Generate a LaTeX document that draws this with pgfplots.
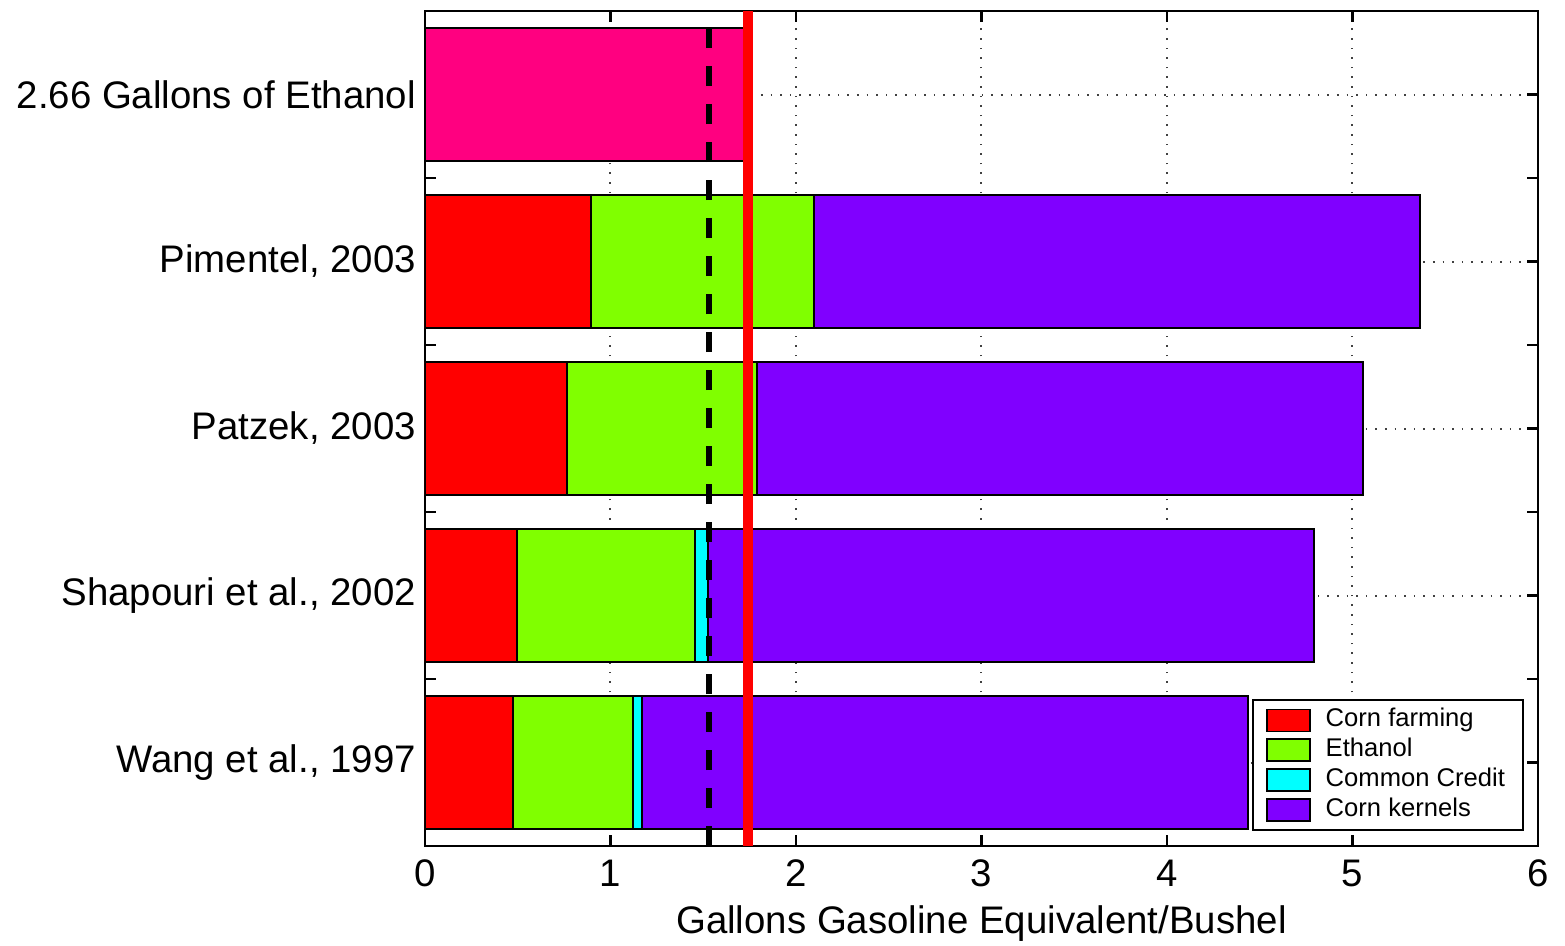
\documentclass[border=0pt]{standalone}
\usepackage{pgfplots}
\pgfplotsset{compat=1.18}
\usepackage{fontspec}
\setmainfont{Liberation Sans}

\definecolor{cfarm}{RGB}{255,0,0}
\definecolor{ceth}{RGB}{128,255,0}
\definecolor{ccred}{RGB}{0,255,255}
\definecolor{ckern}{RGB}{128,0,255}
\definecolor{cpink}{RGB}{255,0,128}

\pgfplotsset{
  base/.style={
    scale only axis,
    width=278.25pt, height=208.75pt,
    xmin=0, xmax=6, ymin=0.5, ymax=5.5,
  },
}

\begin{document}
\begin{tikzpicture}
\begin{axis}[
    base,
    name=ax,
    xbar stacked,
    bar width=0.8,
    axis line style={line width=0.6pt},
    tick align=inside,
    tick pos=both,
    tick style={black, line width=0.6pt},
    major tick length=2.75pt,
    minor tick length=2.75pt,
    xtick={0,1,...,6},
    ytick={1,2,3,4,5},
    minor ytick={1.5,2.5,3.5,4.5},
    yticklabels={{Wang et al., 1997},{Shapouri et al., 2002},{Patzek, 2003},{Pimentel, 2003},{2.66 Gallons of Ethanol}},
    grid=major,
    grid style={dotted, black!75, line width=0.5pt},
    ticklabel style={font=\fontsize{9.6}{11}\selectfont},
    yticklabel style={xshift=1.25pt},
    /pgf/number format/assume math mode=true,
    xlabel={Gallons Gasoline Equivalent/Bushel},
    xlabel style={font=\fontsize{9.6}{11}\selectfont, yshift=2.25pt},
    legend cell align=left,
    legend style={at={(1,0)}, anchor=south east, xshift=-3.5pt, yshift=3.75pt,
      font=\fontsize{6.4}{7.5}\selectfont, draw=black, line width=0.5pt,
      row sep=-2.7pt, inner xsep=2.5pt, inner ysep=0pt},
    legend image code/.code={\path (0pt,0pt) (13.25pt,0pt); \draw[#1, line width=0.4pt] (0.75pt,-2.75pt) rectangle (11.5pt,2.75pt);},
  ]
\addplot[fill=cfarm, draw=black, line width=0.5pt] coordinates {
  (0.473,1) (0.494,2) (0.765,3) (0.895,4) (0,5)};
\addplot[fill=ceth, draw=black, line width=0.5pt] coordinates {
  (0.647,1) (0.962,2) (1.023,3) (1.202,4) (0,5)};
\addplot[fill=ccred, draw=black, line width=0.5pt] coordinates {
  (0.048,1) (0.070,2) (0,3) (0,4) (0,5)};
\addplot[fill=ckern, draw=black, line width=0.5pt] coordinates {
  (3.269,1) (3.266,2) (3.269,3) (3.267,4) (0,5)};
\addplot[fill=cpink, draw=black, line width=0.5pt] coordinates {
  (0,1) (0,2) (0,3) (0,4) (1.74,5)};
\legend{Corn farming, Ethanol, Common Credit, Corn kernels}
\end{axis}
\begin{axis}[base, hide axis]
\addplot[black, line width=1.5pt, dash pattern=on 5pt off 4.5pt] coordinates {(1.53,0.5) (1.53,5.5)};
\addplot[cfarm, line width=2.5pt] coordinates {(1.74,0.5) (1.74,5.5)};
\end{axis}
\pgfresetboundingbox
\path[use as bounding box] ([xshift=-106.25pt,yshift=-24.75pt]ax.south west) rectangle ([xshift=6.75pt,yshift=2.75pt]ax.north east);
\end{tikzpicture}
\end{document}
